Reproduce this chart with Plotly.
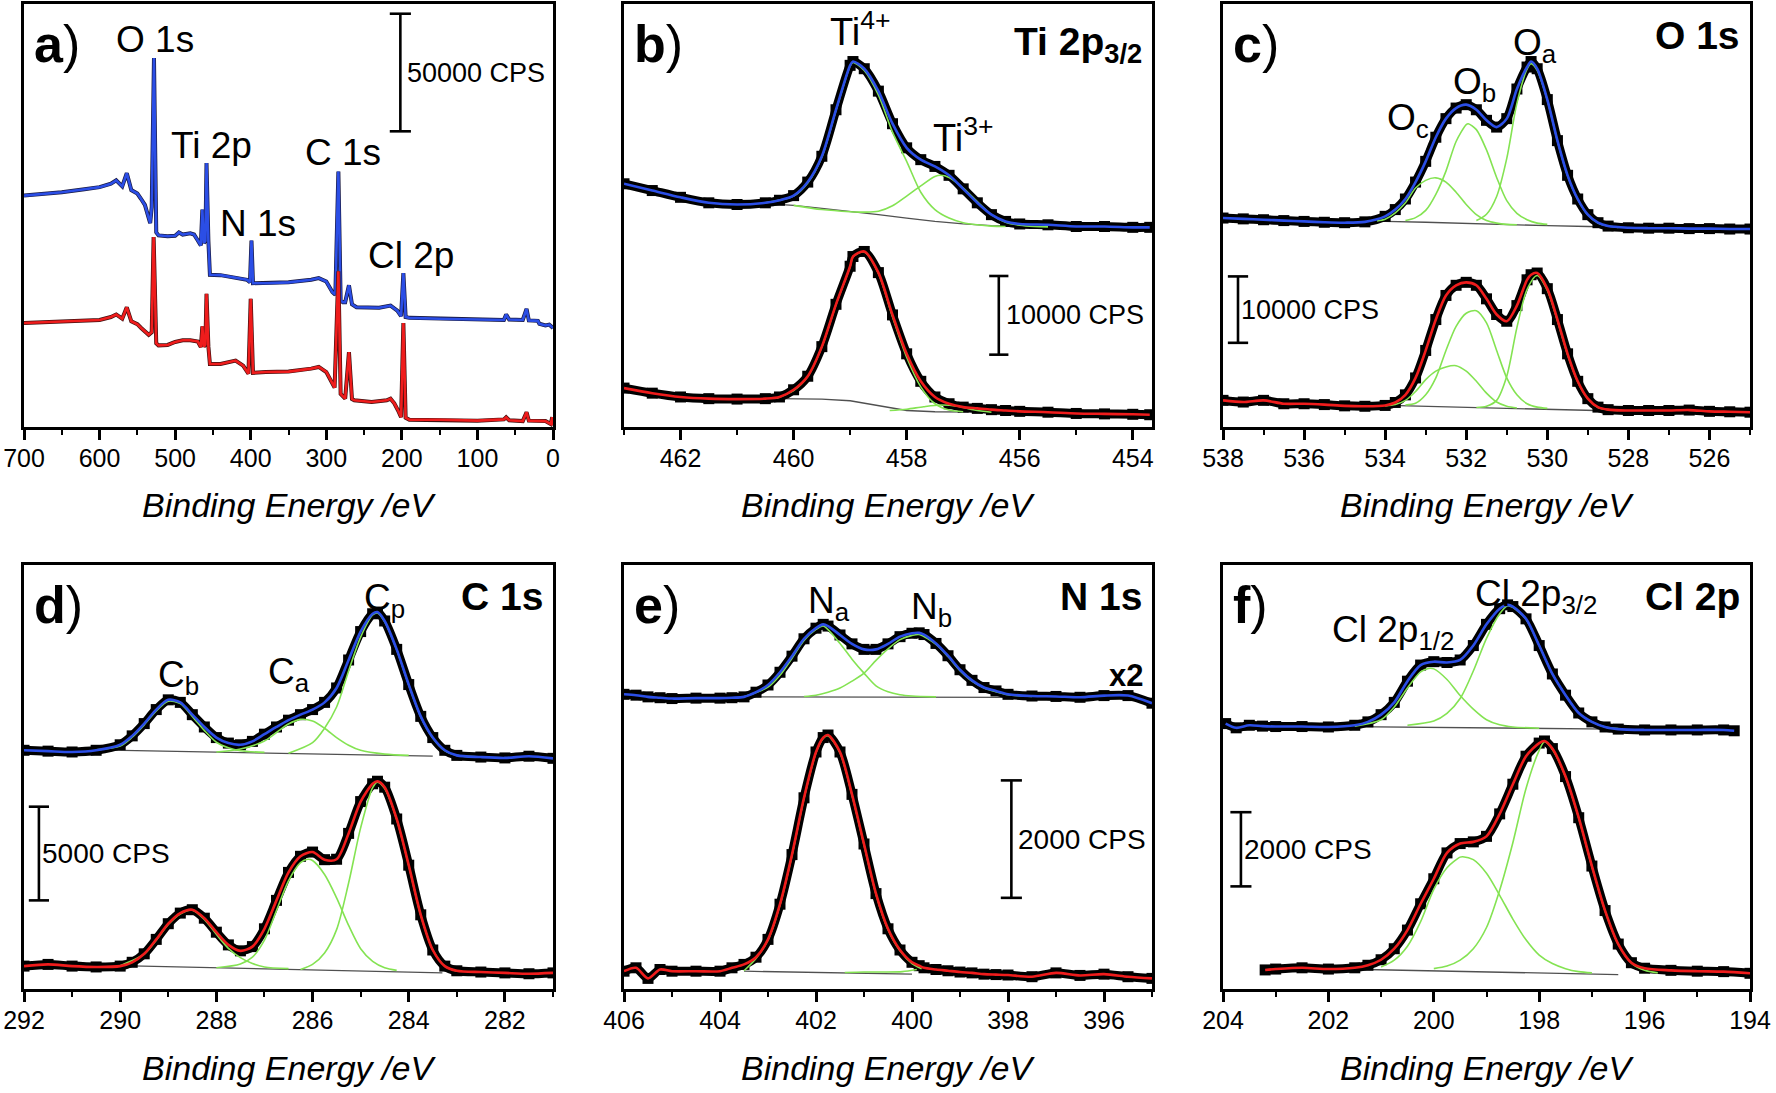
import plotly.graph_objects as go

# ======================= DATA =======================
# intensities are stacked, arbitrary units (0-100 = panel height)

# ---- a) survey ----
A_E_BLUE = [700, 680, 650, 620, 600, 585, 578, 570, 564, 558, 550, 545, 540, 536, 533, 531, 528, 525, 522,
            510, 500, 495, 490, 480, 475, 470, 466, 464, 462, 460, 458.5, 456, 454, 440, 420, 405, 401, 399,
            397, 380, 350, 320, 310, 300, 292, 288, 284, 281, 278, 275, 270, 266, 260, 230, 215, 206, 201,
            198, 195, 190, 150, 100, 65, 62, 58, 40, 35, 32, 20, 18, 10, 5, 0]
A_I_BLUE = [54.7, 55.0, 55.5, 56.2, 56.7, 57.5, 58.3, 56.9, 60.0, 56.0, 55.2, 53.9, 52.5, 50.0, 48.2, 52.0, 87.2, 46.0, 45.3,
            45.1, 45.2, 46.0, 45.5, 45.8, 45.5, 44.1, 42.9, 51.4, 43.5, 44.0, 62.4, 44.0, 36.0, 35.9, 35.3, 34.8, 34.2, 44.1,
            34.0, 34.0, 34.2, 34.8, 35.2, 34.4, 31.9, 31.3, 60.4, 30.0, 29.5, 29.5, 33.5, 29.0, 28.3, 28.2, 28.7, 27.5, 26.2,
            36.4, 26.0, 25.8, 25.6, 25.4, 25.3, 26.6, 25.4, 25.3, 27.9, 25.2, 25.1, 24.4, 24.0, 24.2, 23.4]
A_E_RED = [700, 650, 600, 585, 578, 570, 564, 558, 550, 545, 535, 531, 528.5, 525, 522, 510, 500, 490, 480, 470,
           466, 464, 462, 460, 458.5, 456, 454, 440, 425, 420, 410, 403, 400, 397, 380, 350, 320, 310, 300, 292,
           289, 284, 281, 275, 270, 266, 263, 240, 220, 215, 210, 205, 201, 198, 195, 190, 150, 100, 65, 62, 58,
           40, 35, 32, 10, 3, 1, 0]
A_I_RED = [24.6, 24.9, 25.3, 26.0, 26.6, 25.6, 28.3, 25.0, 24.3, 23.4, 21.8, 22.4, 44.9, 19.8, 19.3, 19.4, 20.1, 20.5, 20.5, 20.2,
           18.9, 23.8, 19.0, 19.5, 31.5, 19.0, 14.9, 14.9, 15.5, 15.7, 14.5, 12.6, 30.3, 12.8, 13.0, 13.1, 13.8, 14.2, 13.0, 10.4,
           9.3, 36.8, 7.8, 6.7, 17.7, 6.6, 6.3, 5.9, 6.3, 6.7, 5.6, 3.9, 2.3, 24.6, 2.2, 1.7, 1.7, 1.5, 1.8, 2.3, 1.6,
           1.4, 3.5, 1.5, 1.4, 0.7, 2.3, 0.4]

# ---- b) Ti 2p3/2 ----
B_E = [463.0, 462.5, 462.0, 461.5, 461.0, 460.5, 460.25, 460.0, 459.75, 459.5, 459.25, 459.0, 458.95, 458.75, 458.5,
       458.25, 458.0, 457.75, 457.5, 457.25, 457.0, 456.75, 456.5, 456.25, 456.0, 455.5, 455.0, 454.5, 454.0, 453.7]
B_BLUE = [57.5, 55.9, 54.3, 53.0, 52.6, 53.0, 53.6, 54.7, 57.9, 64.0, 75.0, 85.5, 86.4, 84.7, 79.4,
          71.7, 66.0, 63.2, 61.6, 59.5, 56.3, 53.0, 50.2, 48.6, 48.0, 47.8, 47.4, 47.4, 47.2, 47.2]
B_RED = [9.2, 8.0, 7.1, 6.7, 6.6, 6.7, 7.1, 8.8, 12.0, 19.0, 29.0, 38.0, 40.3, 41.5, 36.5,
         26.5, 17.3, 10.8, 7.1, 5.5, 4.7, 4.4, 4.1, 3.9, 3.7, 3.5, 3.2, 3.1, 3.0, 2.9]
B_TI4_BLUE_E = [460.5, 460.0, 459.75, 459.5, 459.25, 459.0, 458.95, 458.75, 458.5, 458.25, 458.0, 457.75, 457.5,
                457.25, 457.0, 456.75, 456.5, 456.25]
B_TI4_BLUE = [53.0, 54.6, 57.7, 63.8, 74.8, 85.3, 86.2, 84.3, 78.5, 69.7, 62.8, 55.5, 51.4,
              49.4, 48.3, 47.8, 47.5, 47.4]
B_TI3_BLUE_E = [460.0, 459.5, 459.0, 458.75, 458.5, 458.25, 458.0, 457.75, 457.5, 457.4, 457.25, 457.0, 456.75,
                456.5, 456.25, 456.0, 455.75, 455.5]
B_TI3_BLUE = [52.4, 51.4, 50.9, 50.8, 51.0, 52.3, 54.6, 57.0, 59.2, 59.5, 59.0, 56.5, 53.3,
              50.2, 48.4, 47.7, 47.4, 47.3]
B_TI4_RED_E = [460.3, 460.0, 459.75, 459.5, 459.25, 459.0, 458.95, 458.75, 458.5, 458.25, 458.0, 457.75, 457.5,
               457.25, 457.0]
B_TI4_RED = [6.8, 8.6, 11.9, 18.9, 28.9, 37.9, 40.2, 41.4, 36.3, 26.0, 16.5, 9.5, 5.5, 4.0, 3.6]
B_TI3_RED_E = [458.3, 458.0, 457.7, 457.4, 457.1, 456.8, 456.5]
B_TI3_RED = [3.9, 4.2, 4.8, 5.2, 4.9, 4.0, 3.5]
B_BG_BLUE_E = [460.6, 460.0, 459.5, 459.0, 458.5, 458.0, 457.5, 457.0, 456.5, 456.0, 455.5]
B_BG_BLUE = [52.9, 52.4, 51.7, 51.0, 50.2, 49.4, 48.6, 48.0, 47.6, 47.4, 47.3]
B_BG_RED_E = [460.3, 459.5, 459.0, 458.5, 458.0, 457.5, 457.0, 456.5]
B_BG_RED = [6.7, 6.6, 6.2, 5.0, 3.9, 3.6, 3.5, 3.5]

# ---- c) O 1s ----
C_E = [538, 537.5, 537, 536.5, 536, 535.5, 535, 534.5, 534, 533.75, 533.5, 533.25, 533.0, 532.75, 532.5, 532.25,
       532.0, 531.75, 531.5, 531.25, 531.0, 530.75, 530.5, 530.4, 530.25, 530.0, 529.75, 529.5, 529.25, 529.0,
       528.75, 528.5, 528.0, 527.5, 527.0, 526.5, 526.0, 525.5, 525.0]
C_BLUE = [49.4, 49.2, 49.0, 48.8, 48.6, 48.4, 48.3, 48.5, 49.8, 51.4, 53.9, 57.9, 62.8, 68.5, 72.9, 75.4,
          76.2, 75.0, 72.5, 70.9, 72.9, 79.9, 85.1, 86.4, 84.7, 77.4, 67.7, 59.5, 53.9, 50.2,
          48.3, 47.5, 47.1, 47.0, 47.0, 46.9, 46.9, 46.8, 46.8]
C_RED = [6.3, 5.9, 6.3, 5.5, 5.5, 5.3, 5.0, 4.9, 5.1, 5.8, 7.6, 11.6, 18.1, 25.4, 31.1, 33.5,
         34.2, 33.5, 30.3, 26.6, 25.0, 28.7, 34.8, 36.0, 36.4, 32.7, 25.4, 17.3, 10.8, 6.7,
         4.7, 4.1, 3.9, 3.9, 3.9, 4.0, 3.7, 3.6, 3.5]
C_OC_BLUE_E = [534.2, 534.0, 533.75, 533.5, 533.25, 533.0, 532.75, 532.5, 532.25, 532.0, 531.75, 531.5, 531.25, 531.0, 530.75]
C_OC_BLUE = [48.7, 49.1, 50.6, 53.0, 56.5, 58.3, 58.9, 57.9, 55.5, 52.6, 50.2, 48.8, 48.2, 47.9, 47.8]
C_OB_BLUE_E = [533.5, 533.25, 533.0, 532.75, 532.5, 532.25, 532.0, 531.95, 531.75, 531.5, 531.25, 531.0, 530.75, 530.5, 530.25, 530.0]
C_OB_BLUE = [48.8, 49.5, 51.2, 55.0, 60.5, 67.5, 71.5, 71.7, 70.3, 65.5, 59.0, 53.5, 50.5, 49.0, 48.2, 47.9]
C_OA_BLUE_E = [531.75, 531.5, 531.25, 531.0, 530.75, 530.5, 530.4, 530.25, 530.0, 529.75, 529.5, 529.25, 529.0, 528.75, 528.5, 528.25]
C_OA_BLUE = [48.8, 50.3, 54.5, 63.5, 76.5, 84.6, 85.9, 84.3, 77.3, 67.6, 59.4, 53.8, 50.1, 48.2, 47.5, 47.2]
C_OC_RED_E = [534.0, 533.75, 533.5, 533.25, 533.0, 532.75, 532.5, 532.25, 532.0, 531.75, 531.5, 531.25, 531.0, 530.75]
C_OC_RED = [5.0, 5.3, 6.3, 8.4, 11.2, 13.2, 14.2, 14.5, 13.2, 10.8, 8.0, 5.9, 4.9, 4.5]
C_OB_RED_E = [533.5, 533.25, 533.0, 532.75, 532.5, 532.25, 532.0, 531.75, 531.5, 531.25, 531.0, 530.75, 530.5, 530.25, 530.0]
C_OB_RED = [5.2, 5.6, 7.6, 11.6, 18.1, 23.8, 26.9, 27.5, 24.6, 18.1, 11.6, 7.6, 5.5, 4.7, 4.4]
C_OA_RED_E = [531.75, 531.5, 531.25, 531.0, 530.75, 530.5, 530.25, 530.0, 529.75, 529.5, 529.25, 529.0, 528.75, 528.5, 528.25]
C_OA_RED = [4.6, 4.9, 6.3, 12.0, 23.5, 32.5, 35.8, 32.3, 25.1, 17.1, 10.7, 6.6, 4.6, 4.1, 3.9]
C_BG_BLUE_E = [534.5, 534.0, 533.0, 532.0, 531.0, 530.0, 529.0, 528.5]
C_BG_BLUE = [48.6, 48.6, 48.4, 48.1, 47.9, 47.6, 47.4, 47.3]
C_BG_RED_E = [533.9, 532.0, 530.0, 528.8]
C_BG_RED = [5.1, 4.7, 4.2, 3.9]

# ---- d) C 1s ----
D_E = [292, 291.5, 291, 290.5, 290, 289.75, 289.5, 289.25, 289.0, 288.75, 288.5, 288.25, 288.0, 287.75, 287.5,
       287.25, 287.0, 286.75, 286.5, 286.25, 286.0, 285.75, 285.5, 285.25, 285.0, 284.75, 284.65, 284.5, 284.25,
       284.0, 283.75, 283.5, 283.25, 283.0, 282.5, 282.0, 281.5, 281.0]
D_BLUE = [56.3, 56.1, 55.9, 56.3, 57.6, 59.7, 62.6, 65.9, 68.2, 67.6, 64.7, 61.8, 59.3, 58.0, 57.6,
          58.4, 60.1, 61.8, 63.4, 64.7, 65.9, 67.6, 71.0, 77.6, 84.3, 88.5, 88.9, 86.8, 80.1,
          71.8, 64.3, 59.3, 56.3, 55.1, 54.7, 54.5, 54.9, 54.4]
D_RED = [5.4, 5.8, 5.4, 5.2, 5.4, 6.3, 8.3, 11.7, 15.4, 17.9, 18.7, 16.7, 13.4, 10.4, 9.0,
         10.0, 14.2, 20.9, 27.5, 31.3, 32.3, 30.5, 30.6, 36.7, 44.2, 48.4, 49.0, 47.6, 40.1,
         29.2, 17.5, 9.2, 5.4, 4.3, 4.0, 3.8, 3.6, 3.8]
D_CB_BLUE_E = [290.5, 290.0, 289.75, 289.5, 289.25, 289.0, 288.75, 288.5, 288.25, 288.0, 287.75, 287.5, 287.0]
D_CB_BLUE = [56.4, 57.3, 59.4, 62.3, 65.6, 67.9, 67.3, 64.3, 61.0, 58.2, 56.9, 56.2, 55.8]
D_CA_BLUE_E = [288.0, 287.5, 287.0, 286.75, 286.5, 286.25, 286.0, 285.75, 285.5, 285.25, 285.0, 284.5, 284.0]
D_CA_BLUE = [55.9, 56.6, 58.5, 60.5, 62.5, 63.6, 63.2, 61.5, 59.3, 57.5, 56.3, 55.4, 55.1]
D_CP_BLUE_E = [286.5, 286.0, 285.75, 285.5, 285.25, 285.0, 284.75, 284.65, 284.5, 284.25, 284.0, 283.75, 283.5, 283.25, 283.0, 282.5]
D_CP_BLUE = [55.6, 58.1, 61.5, 66.5, 75.0, 83.0, 88.2, 88.7, 86.6, 80.0, 71.7, 64.2, 59.2, 56.2, 55.1, 54.7]
D_CB_RED_E = [290.0, 289.5, 289.25, 289.0, 288.75, 288.5, 288.25, 288.0, 287.75, 287.5, 287.25, 287.0, 286.5]
D_CB_RED = [5.5, 8.2, 11.5, 15.2, 17.7, 18.6, 16.4, 12.9, 9.6, 7.4, 6.0, 5.2, 4.8]
D_CA_RED_E = [288.0, 287.5, 287.25, 287.0, 286.75, 286.5, 286.25, 286.1, 286.0, 285.75, 285.5, 285.25, 285.0, 284.75, 284.5, 284.25]
D_CA_RED = [5.0, 5.9, 7.5, 11.5, 18.5, 25.5, 29.8, 30.6, 30.3, 27.0, 21.5, 15.0, 9.5, 6.5, 5.0, 4.4]
D_CP_RED_E = [286.25, 286.0, 285.75, 285.5, 285.25, 285.0, 284.75, 284.65, 284.5, 284.25, 284.0, 283.75, 283.5, 283.25, 283.0]
D_CP_RED = [4.6, 5.8, 8.5, 14.0, 25.0, 38.0, 47.5, 48.8, 47.3, 40.0, 29.1, 17.4, 9.2, 5.4, 4.2]
D_BG_BLUE_E = [290.5, 289.0, 287.5, 286.0, 285.0, 284.0, 283.5]
D_BG_BLUE = [56.4, 56.1, 55.7, 55.4, 55.2, 55.0, 54.9]
D_BG_RED_E = [290.0, 288.5, 287.5, 286.0, 285.0, 284.0, 283.3]
D_BG_RED = [5.5, 5.1, 4.8, 4.5, 4.2, 4.0, 3.8]

# ---- e) N 1s ----
E_E = [406, 405.75, 405.5, 405.25, 405, 404.5, 404, 403.75, 403.5, 403.25, 403.0, 402.75, 402.5, 402.25, 402.0,
       401.85, 401.75, 401.5, 401.25, 401.0, 400.75, 400.5, 400.25, 400.0, 399.85, 399.75, 399.5, 399.25, 399.0,
       398.75, 398.5, 398.25, 398.0, 397.5, 397.0, 396.5, 396.0, 395.5, 395.0]
E_BLUE = [69.5, 69.3, 68.9, 68.7, 68.5, 68.6, 68.6, 68.7, 68.9, 70.0, 71.7, 74.7, 78.5, 82.6, 85.1,
          86.0, 85.6, 83.5, 81.4, 80.1, 80.1, 81.4, 83.1, 83.9, 84.0, 83.6, 81.5, 78.6, 75.3,
          72.8, 71.1, 70.3, 69.5, 69.1, 69.0, 68.8, 69.2, 69.2, 67.4]
E_RED = [4.2, 5.0, 2.5, 4.6, 4.2, 4.2, 4.2, 5.0, 5.8, 7.5, 11.7, 20.0, 31.7, 45.1, 55.9,
         59.3, 59.9, 55.9, 45.9, 34.2, 22.5, 14.2, 9.2, 6.3, 5.5, 5.0, 4.6, 4.3, 4.0,
         3.8, 3.5, 3.4, 3.3, 2.9, 3.8, 3.2, 3.5, 2.9, 2.5]
E_NA_BLUE_E = [403.5, 403.0, 402.75, 402.5, 402.25, 402.0, 401.85, 401.5, 401.25, 401.0, 400.75, 400.5, 400.25, 400.0, 399.5]
E_NA_BLUE = [68.9, 71.2, 74.0, 78.0, 82.2, 84.8, 85.6, 81.5, 77.8, 74.5, 71.5, 70.1, 69.4, 69.1, 68.9]
E_NB_BLUE_E = [402.25, 402.0, 401.75, 401.5, 401.25, 401.0, 400.75, 400.5, 400.25, 400.0, 399.85, 399.5, 399.25,
               399.0, 398.75, 398.5, 398.25, 398.0, 397.5]
E_NB_BLUE = [69.0, 69.3, 70.0, 71.0, 72.6, 74.5, 77.5, 80.2, 82.4, 83.4, 83.6, 81.3, 78.4,
             75.1, 72.6, 71.0, 70.1, 69.4, 69.0]
E_NA_RED_E = [403.5, 403.25, 403.0, 402.75, 402.5, 402.25, 402.0, 401.85, 401.75, 401.5, 401.25, 401.0, 400.75,
              400.5, 400.25, 400.0, 399.8]
E_NA_RED = [4.3, 7.2, 11.5, 19.8, 31.5, 44.9, 55.7, 59.1, 59.7, 55.7, 45.7, 34.0, 22.3, 14.0, 9.0, 6.0, 4.8]
E_NB_RED_E = [401.4, 401.0, 400.6, 400.2, 399.9]
E_NB_RED = [3.9, 4.0, 4.0, 4.1, 4.6]
E_BG_BLUE_E = [403.6, 400.5, 397.9]
E_BG_BLUE = [68.9, 68.9, 68.8]
E_BG_RED_E = [403.5, 401.5, 400.0]
E_BG_RED = [4.2, 3.8, 3.5]

# ---- f) Cl 2p ----
F_E_BLUE = [203.95, 203.75, 203.5, 203.25, 203.0, 202.5, 202.0, 201.5, 201.25, 201.0, 200.75, 200.5, 200.25, 200.0,
            199.75, 199.5, 199.25, 199.0, 198.75, 198.6, 198.5, 198.25, 198.0, 197.75, 197.5, 197.25, 197.0,
            196.75, 196.5, 196.0, 195.5, 195.0, 194.5, 194.3]
F_BLUE = [62.6, 61.6, 62.2, 62.0, 61.9, 61.9, 61.8, 62.2, 63.0, 64.7, 67.6, 72.6, 76.4, 77.2,
          77.0, 77.6, 81.0, 86.0, 89.7, 90.6, 90.2, 87.3, 81.0, 74.3, 69.3, 65.1, 63.0,
          61.8, 61.3, 61.1, 61.1, 61.1, 61.1, 60.9]
F_E_RED = [203.2, 203.0, 202.5, 202.0, 201.5, 201.25, 201.0, 200.75, 200.5, 200.25, 200.0, 199.75, 199.5, 199.25,
           199.0, 198.75, 198.5, 198.25, 198.0, 197.9, 197.75, 197.5, 197.25, 197.0, 196.75, 196.5, 196.25,
           196.0, 195.5, 195.0, 194.5, 194.0]
F_RED = [4.5, 4.7, 5.0, 4.7, 5.0, 5.6, 6.9, 9.5, 13.9, 20.1, 26.0, 32.1, 34.3, 34.7,
         36.0, 41.3, 48.3, 54.9, 58.0, 58.5, 56.7, 50.1, 40.4, 29.0, 18.5, 10.6, 6.2,
         4.9, 4.4, 4.2, 4.1, 3.7]
F_P12_BLUE_E = [201.5, 201.0, 200.75, 200.5, 200.25, 200.1, 200.0, 199.75, 199.5, 199.25, 199.0, 198.75, 198.5, 198.0]
F_P12_BLUE = [62.0, 63.5, 66.5, 71.0, 74.8, 75.6, 75.5, 73.0, 69.2, 66.0, 63.5, 62.3, 61.8, 61.5]
F_P32_BLUE_E = [200.5, 200.0, 199.75, 199.5, 199.25, 199.0, 198.75, 198.6, 198.5, 198.25, 198.0, 197.75, 197.5,
                197.25, 197.0, 196.75, 196.5]
F_P32_BLUE = [62.2, 63.2, 65.0, 68.5, 75.0, 82.7, 88.5, 90.4, 90.0, 87.2, 81.0, 74.3, 69.3, 65.1, 63.0, 61.8, 61.4]
F_P12_RED_E = [201.0, 200.75, 200.5, 200.25, 200.0, 199.75, 199.5, 199.45, 199.25, 199.0, 198.75, 198.5, 198.25,
               198.0, 197.75, 197.5, 197.25, 197.0]
F_P12_RED = [5.2, 6.8, 10.1, 15.9, 23.5, 28.6, 31.1, 31.2, 30.5, 27.3, 22.1, 16.5, 11.6, 8.0, 6.0, 4.8, 4.1, 3.8]
F_P32_RED_E = [200.0, 199.75, 199.5, 199.25, 199.0, 198.75, 198.5, 198.25, 198.0, 197.9, 197.75, 197.5, 197.25,
               197.0, 196.75, 196.5, 196.25, 196.0, 195.75]
F_P32_RED = [4.8, 5.4, 6.8, 9.5, 14.5, 23.3, 34.5, 47.3, 56.3, 58.3, 56.5, 50.0, 40.3, 28.9, 18.4, 10.5, 6.1, 4.4, 3.8]
F_BG_BLUE_E = [201.6, 199.5, 197.0, 196.6]
F_BG_BLUE = [61.9, 61.6, 61.3, 61.3]
F_BG_RED_E = [201.3, 199.5, 197.0, 196.5]
F_BG_RED = [4.6, 4.2, 3.6, 3.4]

# scale bars: (panel, energy, top, bottom, cap half-width, label)
SCALE_BARS = [
    (1, 202.0, 97.7, 69.9, 14.0, "50000 CPS"),
    (2, 456.37, 35.7, 17.1, 0.17, "10000 CPS"),
    (3, 537.63, 35.6, 19.9, 0.25, "10000 CPS"),
    (4, 291.69, 43.0, 20.9, 0.21, "5000 CPS"),
    (5, 397.93, 49.2, 21.5, 0.22, "2000 CPS"),
    (6, 203.66, 41.7, 24.2, 0.20, "2000 CPS"),
]

# ======================= STYLE / LAYOUT =======================
W, H = 1776, 1093
FONT = "Liberation Sans, Arial, sans-serif"
BLUE = "#2b4ee6"
RED = "#ef1c1c"
GREEN = "#84e352"
GREY = "#505050"

X_DOM = [(24 / W, 553 / W), (624 / W, 1152 / W), (1223 / W, 1750 / W)]
Y_TOP = (1 - 427 / H, 1 - 4 / H)
Y_BOT = (1 - 989 / H, 1 - 565 / H)

PANELS = [
    dict(rng=[700, 0], dt=100, mdt=50, xd=X_DOM[0], yd=Y_TOP),
    dict(rng=[463.0, 453.66], dt=2, mdt=1, xd=X_DOM[1], yd=Y_TOP),
    dict(rng=[538, 525], dt=2, mdt=1, xd=X_DOM[2], yd=Y_TOP),
    dict(rng=[292, 281], dt=2, mdt=1, xd=X_DOM[0], yd=Y_BOT),
    dict(rng=[406, 395], dt=2, mdt=1, xd=X_DOM[1], yd=Y_BOT),
    dict(rng=[204, 194], dt=2, mdt=1, xd=X_DOM[2], yd=Y_BOT),
]


def ax(i):
    return ("x" if i == 1 else f"x{i}", "y" if i == 1 else f"y{i}")


fig = go.Figure()


def line(i, x, y, color, width, shape="spline"):
    xa, ya = ax(i)
    fig.add_trace(go.Scatter(x=x, y=y, mode="lines", xaxis=xa, yaxis=ya, hoverinfo="skip",
                             line=dict(color=color, width=width, shape=shape, smoothing=0.8)))


def data(i, x, y):
    xa, ya = ax(i)
    fig.add_trace(go.Scatter(x=x, y=y, mode="lines+markers", xaxis=xa, yaxis=ya, hoverinfo="skip",
                             line=dict(color="black", width=9, shape="spline", smoothing=0.8),
                             marker=dict(symbol="square", size=11, color="black")))


# a) survey
line(1, A_E_BLUE, A_I_BLUE, "#1a1a40", 4.0, "linear")
line(1, A_E_BLUE, A_I_BLUE, BLUE, 2.6, "linear")
line(1, A_E_RED, A_I_RED, "#401010", 4.0, "linear")
line(1, A_E_RED, A_I_RED, RED, 2.6, "linear")

SPECTRA = [
    (2, B_E, B_BLUE, B_E, B_RED, [(B_BG_BLUE_E, B_BG_BLUE), (B_BG_RED_E, B_BG_RED)],
     [(B_TI4_BLUE_E, B_TI4_BLUE), (B_TI3_BLUE_E, B_TI3_BLUE), (B_TI4_RED_E, B_TI4_RED), (B_TI3_RED_E, B_TI3_RED)]),
    (3, C_E, C_BLUE, C_E, C_RED, [(C_BG_BLUE_E, C_BG_BLUE), (C_BG_RED_E, C_BG_RED)],
     [(C_OC_BLUE_E, C_OC_BLUE), (C_OB_BLUE_E, C_OB_BLUE), (C_OA_BLUE_E, C_OA_BLUE),
      (C_OC_RED_E, C_OC_RED), (C_OB_RED_E, C_OB_RED), (C_OA_RED_E, C_OA_RED)]),
    (4, D_E, D_BLUE, D_E, D_RED, [(D_BG_BLUE_E, D_BG_BLUE), (D_BG_RED_E, D_BG_RED)],
     [(D_CB_BLUE_E, D_CB_BLUE), (D_CA_BLUE_E, D_CA_BLUE), (D_CP_BLUE_E, D_CP_BLUE),
      (D_CB_RED_E, D_CB_RED), (D_CA_RED_E, D_CA_RED), (D_CP_RED_E, D_CP_RED)]),
    (5, E_E, E_BLUE, E_E, E_RED, [(E_BG_BLUE_E, E_BG_BLUE), (E_BG_RED_E, E_BG_RED)],
     [(E_NA_BLUE_E, E_NA_BLUE), (E_NB_BLUE_E, E_NB_BLUE), (E_NA_RED_E, E_NA_RED), (E_NB_RED_E, E_NB_RED)]),
    (6, F_E_BLUE, F_BLUE, F_E_RED, F_RED, [(F_BG_BLUE_E, F_BG_BLUE), (F_BG_RED_E, F_BG_RED)],
     [(F_P12_BLUE_E, F_P12_BLUE), (F_P32_BLUE_E, F_P32_BLUE), (F_P12_RED_E, F_P12_RED), (F_P32_RED_E, F_P32_RED)]),
]

for i, eb, ib, er, ir, bgs, comps in SPECTRA:
    for bx, by in bgs:
        line(i, bx, by, GREY, 1.3, "linear")
    data(i, eb, ib)
    data(i, er, ir)
    for cx, cy in comps:
        line(i, cx, cy, GREEN, 1.6)
    line(i, eb, ib, BLUE, 2.6)
    line(i, er, ir, RED, 2.6)

annotations = []
for i, xe, top, bot, cw, lab in SCALE_BARS:
    xa, ya = ax(i)
    fig.add_trace(go.Scatter(x=[xe - cw, xe + cw, None, xe, xe, None, xe - cw, xe + cw],
                             y=[top, top, None, top, bot, None, bot, bot], mode="lines",
                             xaxis=xa, yaxis=ya, hoverinfo="skip", connectgaps=False,
                             line=dict(color="black", width=2.6)))
    annotations.append(dict(x=xe, y=(top + bot) / 2, xref=xa, yref=ya, text=lab, showarrow=False,
                            xanchor="left", yanchor="middle", xshift=5 if i in (1, 2, 5) else 1,
                            font=dict(family=FONT, size=27 if i <= 3 else 28, color="black")))

# peak labels (data coords): panel, x, y, text, size
PEAK_LABELS = [
    (1, 527, 91.5, "O 1s", 37), (1, 452, 66.5, "Ti 2p", 37), (1, 390, 48.2, "N 1s", 37),
    (1, 278.5, 64.8, "C 1s", 37), (1, 187.5, 40.6, "Cl 2p", 37),
    (2, 458.82, 94.0, "Ti<sup>4+</sup>", 38), (2, 457.0, 69.0, "Ti<sup>3+</sup>", 38),
    (3, 533.44, 72.5, "O<sub>c</sub>", 37), (3, 531.8, 81.0, "O<sub>b</sub>", 37), (3, 530.3, 90.4, "O<sub>a</sub>", 37),
    (4, 288.78, 73.5, "C<sub>b</sub>", 37), (4, 286.48, 74.3, "C<sub>a</sub>", 37), (4, 284.5, 91.8, "C<sub>p</sub>", 37),
    (5, 401.72, 91.0, "N<sub>a</sub>", 37), (5, 399.6, 89.7, "N<sub>b</sub>", 37),
    (6, 200.77, 84.3, "Cl 2p<sub>1/2</sub>", 37), (6, 198.07, 92.7, "Cl 2p<sub>3/2</sub>", 37),
]
for i, x, y, t, s in PEAK_LABELS:
    xa, ya = ax(i)
    annotations.append(dict(x=x, y=y, xref=xa, yref=ya, text=t, showarrow=False, xanchor="center",
                            yanchor="middle", font=dict(family=FONT, size=s, color="black")))

# panel letters and headers (domain coords)
LETTERS = ["a", "b", "c", "d", "e", "f"]
HEADERS = [None, "Ti 2p<sub>3/2</sub>", "O 1s", "C 1s", "N 1s", "Cl 2p"]
for i in range(1, 7):
    xa, ya = ax(i)
    annotations.append(dict(x=0.015, y=0.905, xref=f"{xa} domain", yref=f"{ya} domain",
                            text=f"<b>{LETTERS[i-1]}</b>)", showarrow=False, xanchor="left", yanchor="middle",
                            font=dict(family=FONT, size=52, color="black")))
    if HEADERS[i - 1]:
        annotations.append(dict(x=0.985, y=0.925 if i != 2 else 0.905, xref=f"{xa} domain", yref=f"{ya} domain",
                                text=f"<b>{HEADERS[i-1]}</b>", showarrow=False, xanchor="right",
                                yanchor="middle", font=dict(family=FONT, size=39, color="black")))
# x2 marker in e
annotations.append(dict(x=0.986, y=0.739, xref="x5 domain", yref="y5 domain", text="<b>x2</b>",
                        showarrow=False, xanchor="right", yanchor="middle",
                        font=dict(family=FONT, size=31, color="black")))

# axis titles
for i in range(1, 7):
    p = PANELS[i - 1]
    annotations.append(dict(x=(p["xd"][0] + p["xd"][1]) / 2, y=(1 - 505 / H) if i <= 3 else (1 - 1068 / H),
                            xref="paper", yref="paper", text="<i>Binding Energy /eV</i>", showarrow=False,
                            xanchor="center", yanchor="middle", font=dict(family=FONT, size=34, color="black")))

layout = dict(width=W, height=H, margin=dict(l=0, r=0, t=0, b=0, autoexpand=False), paper_bgcolor="white",
              plot_bgcolor="white", showlegend=False, annotations=annotations)
for i, p in enumerate(PANELS, start=1):
    xk = "xaxis" if i == 1 else f"xaxis{i}"
    yk = "yaxis" if i == 1 else f"yaxis{i}"
    xa, ya = ax(i)
    layout[xk] = dict(domain=list(p["xd"]), range=p["rng"], anchor=ya, dtick=p["dt"], tick0=0,
                      automargin=False, showline=True, mirror=True, linecolor="black", linewidth=2.6,
                      ticks="outside", ticklen=10, tickwidth=2.6, tickcolor="black",
                      showgrid=False, zeroline=False, ticklabelstandoff=-3,
                      tickfont=dict(family=FONT, size=25, color="black"),
                      minor=dict(ticks="outside", ticklen=5, tickwidth=2.2, tickcolor="black",
                                 dtick=p["mdt"], showgrid=False))
    layout[yk] = dict(domain=list(p["yd"]), range=[0, 100], anchor=xa, showline=True, mirror=True,
                      automargin=False, linecolor="black", linewidth=2.6, ticks="", showticklabels=False,
                      showgrid=False, zeroline=False)

fig.update_layout(**layout)
fig.write_html("out.html", config={"displayModeBar": False},
               post_script="document.body.style.margin='0';document.body.style.padding='0';"
                           "document.body.style.overflow='hidden';")
